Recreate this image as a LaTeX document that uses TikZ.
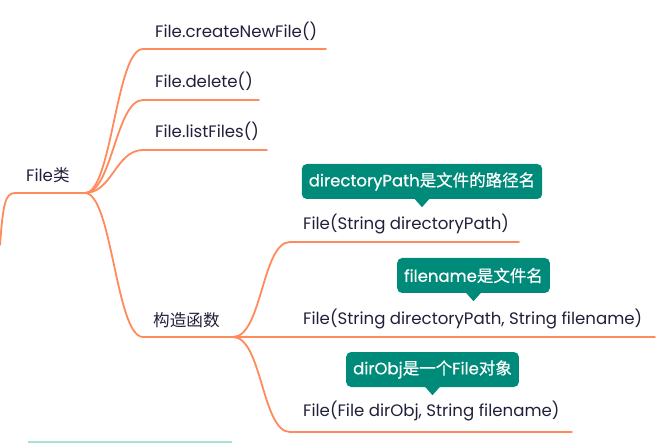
\documentclass[tikz,border=0pt]{standalone}
\usepackage{fontspec}
\setmainfont{Poppins}
\newfontfamily\cjk{Noto Sans CJK SC}
\newfontfamily\medfont[FakeBold=0.6]{Poppins}
\newfontfamily\cjkmed[FakeBold=0.4]{Noto Sans CJK SC}
\definecolor{branch}{HTML}{FF8A5B}
\definecolor{calloutfill}{HTML}{008A7A}
\definecolor{txt}{HTML}{20203A}
\definecolor{faint}{HTML}{A6E3D6}
\begin{document}
\begin{tikzpicture}[x=1pt,y=-1pt,
  conn/.style={draw=branch,line width=1.8pt,line cap=round},
  lbl/.style={anchor=west,inner sep=0pt,text=txt,font=\fontsize{16.6}{19}\selectfont},
  callout/.style={fill=calloutfill,rounded corners=5pt,text=white,inner xsep=7pt,minimum height=35pt,font=\fontsize{16.5}{19}\medfont}]
\useasboundingbox (0,0) rectangle (658,443);
% root
\coordinate (r0) at (0,245);
\coordinate (r1) at (15,193);
\coordinate (rb) at (85,193);
\node[lbl] (root) at (26,175) {File{\cjk 类}};
\draw[conn] (r0) .. controls (3,205) and (5,193) .. (r1) -- (rb);
% first level
\coordinate (a1) at (143,49);  \coordinate (a1e) at (326,49);
\coordinate (a2) at (143,100); \coordinate (a2e) at (259,100);
\coordinate (a3) at (143,150); \coordinate (a3e) at (267,150);
\coordinate (a4) at (143,337); \coordinate (cb) at (233,337);
\node[lbl] (t1) at (155,31) {File.createNewFile()};
\node[lbl] (t2) at (155,81) {File.delete()};
\node[lbl] (t3) at (155,131) {File.listFiles()};
\node[lbl] (t4) at (153,320) {{\cjk 构造函数}};
\draw[conn] (rb) .. controls (112,193) and (116,49) .. (a1) -- (a1e);
\draw[conn] (rb) .. controls (112,193) and (116,100) .. (a2) -- (a2e);
\draw[conn] (rb) .. controls (112,193) and (116,150) .. (a3) -- (a3e);
\draw[conn] (rb) .. controls (112,193) and (116,337) .. (a4) -- (cb);
% constructors
\coordinate (c1) at (290,242); \coordinate (c1e) at (519,242);
\coordinate (c2e) at (655,337);
\coordinate (c3) at (290,432); \coordinate (c3e) at (572,432);
\node[lbl] (k1) at (303,224) {File(String directoryPath)};
\node[lbl] (k2) at (303,319) {File(String directoryPath, String filename)};
\node[lbl] (k3) at (303,411) {File(File dirObj, String filename)};
\draw[conn] (cb) .. controls (262,337) and (262,242) .. (c1) -- (c1e);
\draw[conn] (cb) -- (c2e);
\draw[conn] (cb) .. controls (262,337) and (262,432) .. (c3) -- (c3e);
% callouts
\node[callout] (b1) at (422,181.5) {directoryPath{\cjkmed 是文件的路径名}};
\node[callout] (b2) at (473.5,275.5) {filename{\cjkmed 是文件名}};
\node[callout] (b3) at (432.5,369.5) {dirObj{\cjkmed 是一个}File{\cjkmed 对象}};
\fill[calloutfill] ([xshift=-8pt,yshift=1pt]b1.south) -- ([xshift=8pt,yshift=1pt]b1.south) -- ([yshift=-8pt]b1.south) -- cycle;
\fill[calloutfill] ([xshift=-8pt,yshift=1pt]b2.south) -- ([xshift=8pt,yshift=1pt]b2.south) -- ([yshift=-8pt]b2.south) -- cycle;
\fill[calloutfill] ([xshift=-8pt,yshift=1pt]b3.south) -- ([xshift=8pt,yshift=1pt]b3.south) -- ([yshift=-8pt]b3.south) -- cycle;
% faint line at bottom
\coordinate (f0) at (28,442); \coordinate (f1) at (232,442);
\draw[faint,line width=1.5pt] (f0) -- (f1);
\end{tikzpicture}
\end{document}
